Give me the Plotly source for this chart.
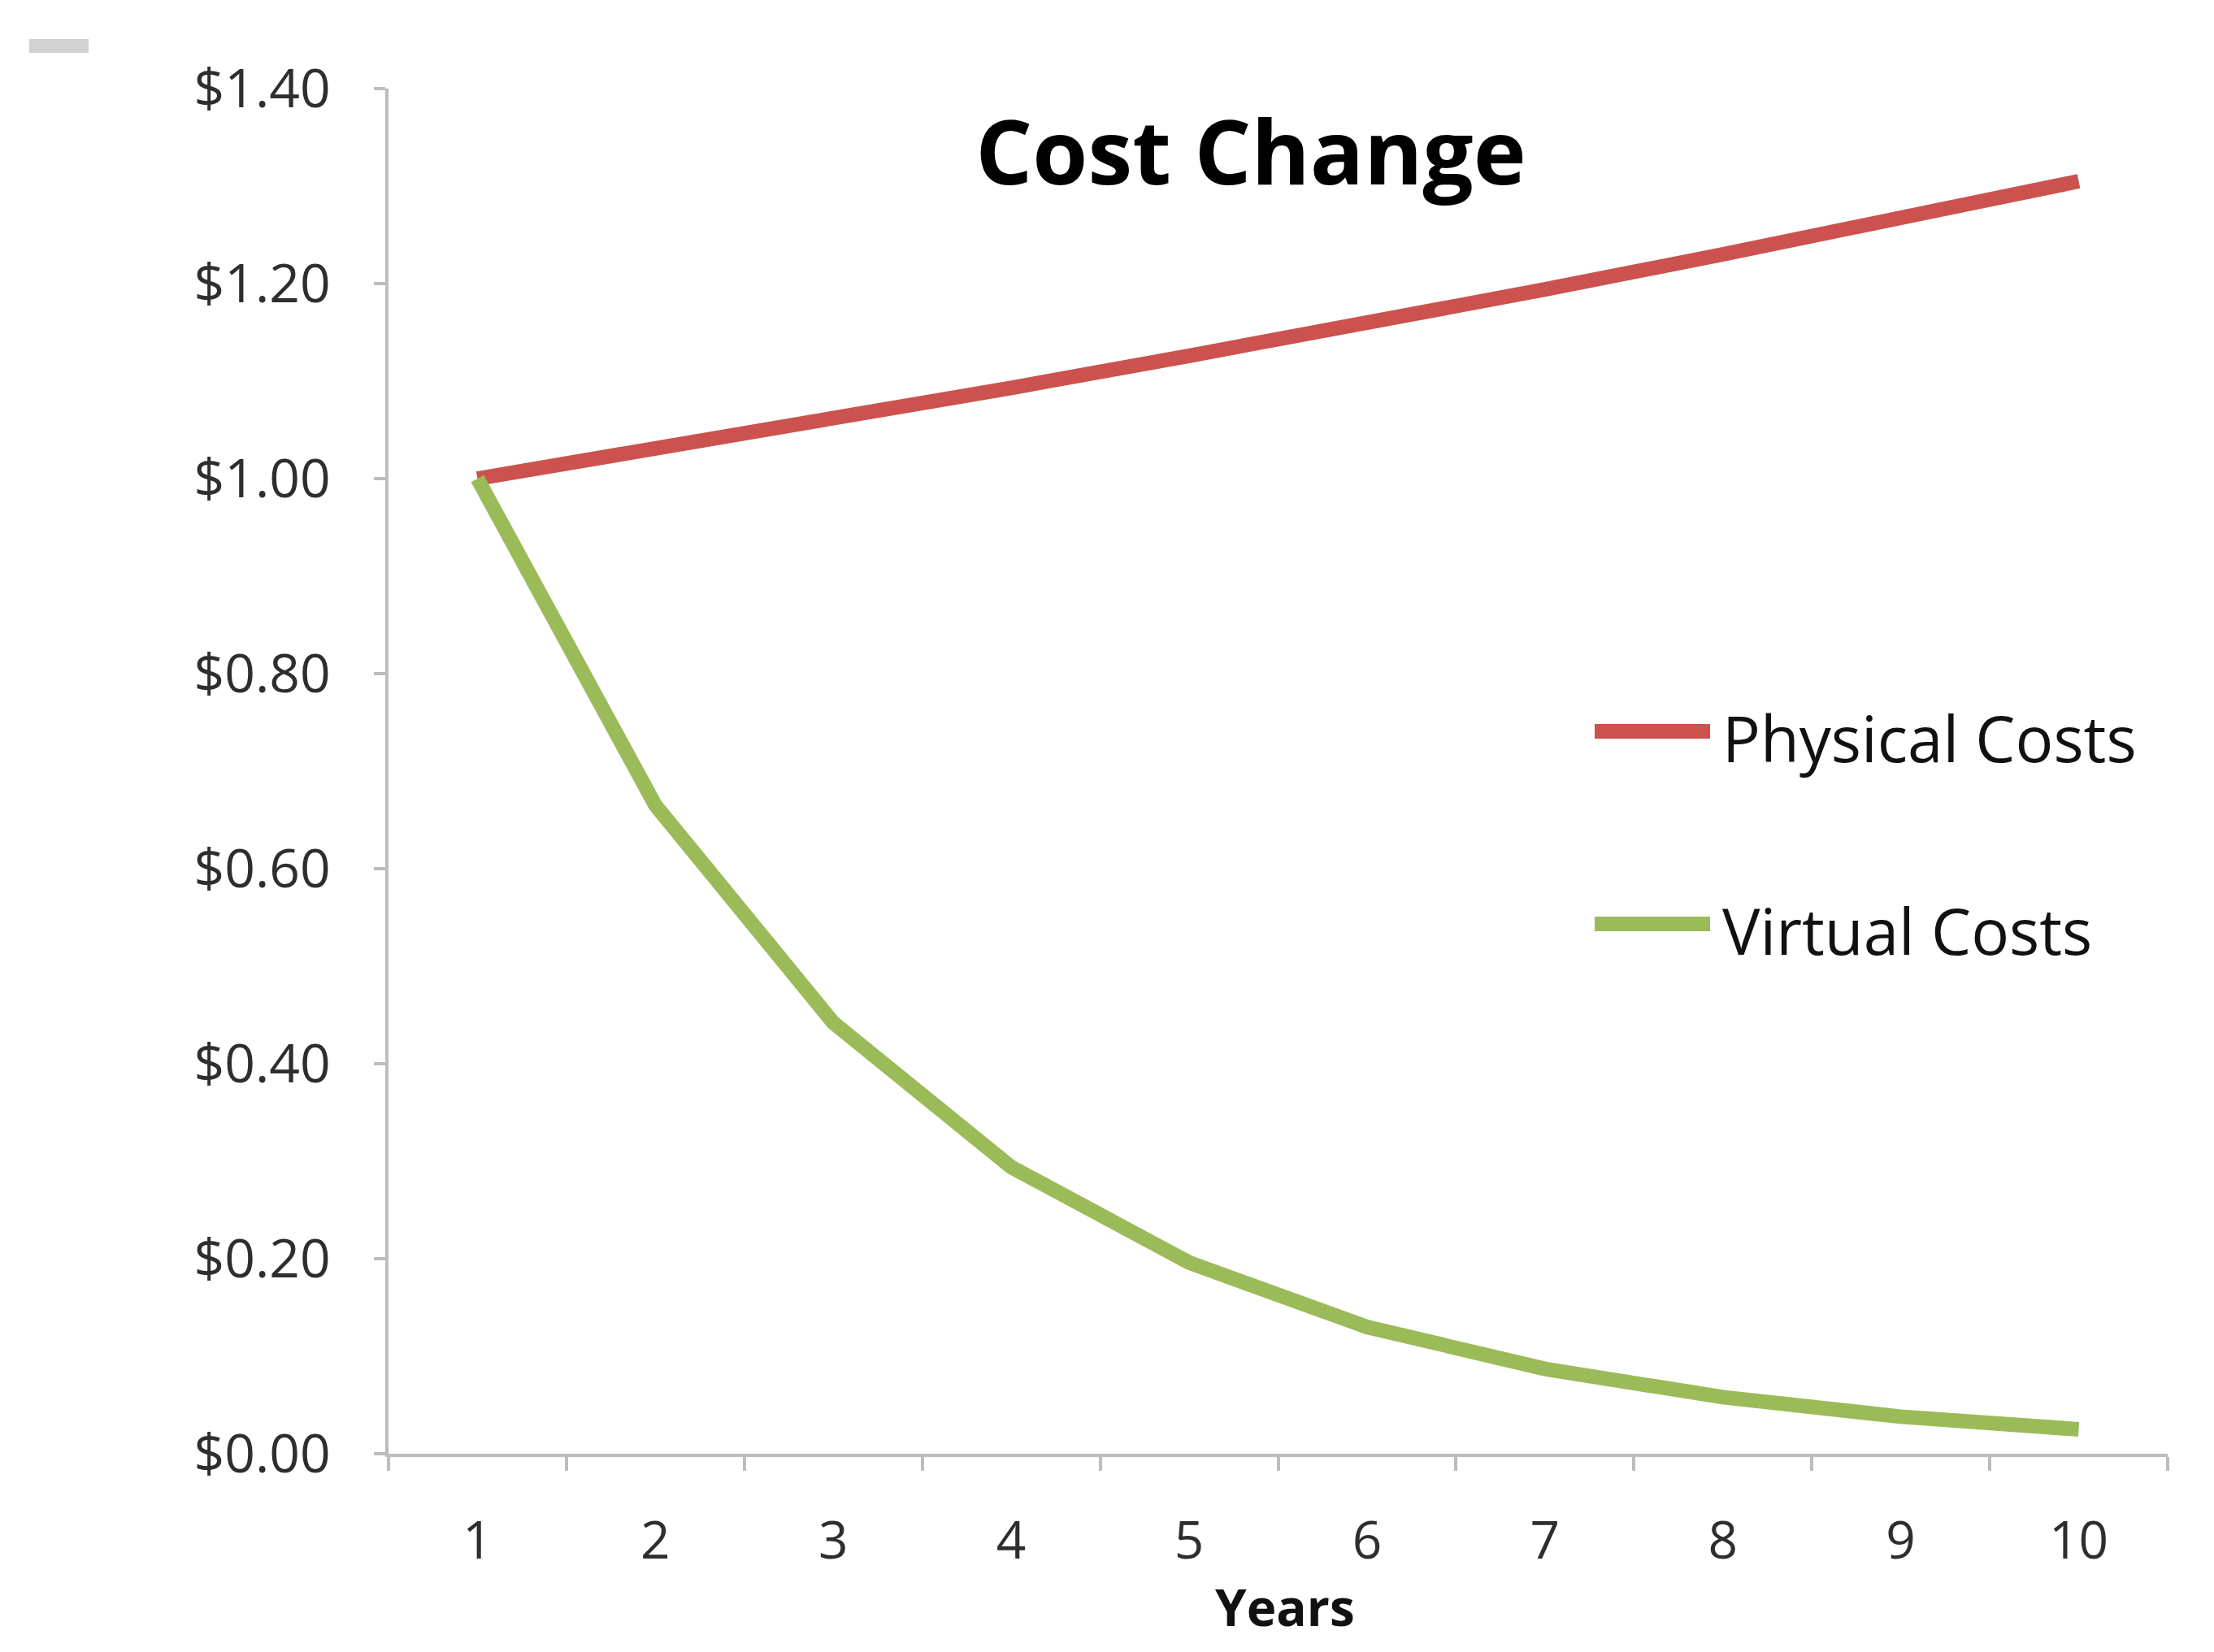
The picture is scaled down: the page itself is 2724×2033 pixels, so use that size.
import plotly.graph_objects as go

# ---- data ----
years = ["1", "2", "3", "4", "5", "6", "7", "8", "9", "10"]
physical_costs = [1.00, 1.03, 1.061, 1.093, 1.126, 1.159, 1.194, 1.230, 1.267, 1.305]
virtual_costs = [1.00, 0.665, 0.442, 0.294, 0.196, 0.130, 0.087, 0.058, 0.038, 0.025]
series_names = ["Physical Costs", "Virtual Costs"]
y_ticks = [0, 0.2, 0.4, 0.6, 0.8, 1.0, 1.2, 1.4]

RED = "#CB524E"
GREEN = "#9BBB59"
AXIS = "#BDBDBD"
FONT = "Open Sans"
TICKCOL = "#2E2E2E"

W, H = 2724, 2033
L, R, T, B = 478, 57, 109, 244
PW, PH = W - L - R, H - T - B


def px(x):
    return (x - L) / PW


def py(y):
    return (H - B - y) / PH


fig = go.Figure()
for name, vals, col in [(series_names[0], physical_costs, RED), (series_names[1], virtual_costs, GREEN)]:
    fig.add_trace(go.Scatter(x=years, y=vals, mode="lines", name=name,
                             line=dict(color=col, width=18), showlegend=False))

fig.update_layout(
    width=W, height=H,
    margin=dict(l=L, r=R, t=T, b=B, pad=0),
    paper_bgcolor="white", plot_bgcolor="white",
    font=dict(family=FONT, color=TICKCOL),
    title=dict(text="<b>Cost Change</b>", x=1539 / W, xanchor="center",
               y=1 - 188 / H, yanchor="middle", yref="container",
               font=dict(size=110, color="#000000", family=FONT)),
    xaxis=dict(type="category", range=[-0.5, len(years) - 0.5], tickson="boundaries",
               ticks="outside", ticklen=17,
               tickwidth=4, tickcolor=AXIS, showline=True, linecolor=AXIS, linewidth=4,
               showgrid=False, zeroline=False, tickfont=dict(size=64, color=TICKCOL),
               ticklabelstandoff=48),
    yaxis=dict(range=[0, 1.4], tickvals=y_ticks, tickformat="$.2f", ticks="outside",
               ticklen=14, tickwidth=4, tickcolor=AXIS, showline=True, linecolor=AXIS,
               linewidth=4, showgrid=False, zeroline=False,
               tickfont=dict(size=66, color=TICKCOL), ticklabelstandoff=40),
)

# axis title
fig.add_annotation(text="<b>Years</b>", x=px(1581), y=py(1977), xref="paper", yref="paper",
                   xanchor="center", yanchor="middle", showarrow=False,
                   font=dict(size=62, color="#111111", family=FONT))

# custom legend (long swatches as in the reference)
for name, col, yy in [(series_names[0], RED, 900), (series_names[1], GREEN, 1137)]:
    fig.add_shape(type="line", xref="paper", yref="paper", x0=px(1962), x1=px(2104),
                  y0=py(yy), y1=py(yy), line=dict(color=col, width=18))
    fig.add_annotation(text=name, x=px(2117), y=py(yy + 8), xref="paper", yref="paper",
                       xanchor="left", yanchor="middle", showarrow=False,
                       font=dict(size=78, color="#111111", family=FONT))

# small grey mark in the top-left corner
fig.add_shape(type="rect", xref="paper", yref="paper", x0=px(36), x1=px(109),
              y0=py(65), y1=py(48), fillcolor="#D2D2D2", line=dict(width=0), layer="above")

fig.write_html("out.html", config={"displayModeBar": False},
               post_script="document.body.style.margin='0';document.body.style.overflow='hidden';")
